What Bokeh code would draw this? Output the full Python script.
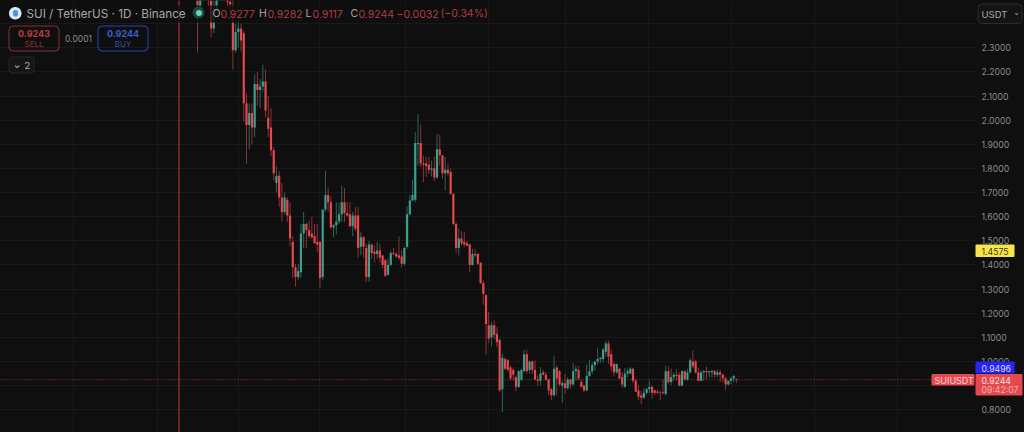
from bokeh.plotting import figure
from bokeh.models import (ColumnDataSource, BoxAnnotation, Label, Span, FixedTicker,
                          NumeralTickFormatter, Range1d, GlobalInlineStyleSheet)
from bokeh.embed import file_html
from bokeh.resources import INLINE

opens = [2.52,2.47,2.55,2.58,2.55,2.51,2.38,2.47,2.52,2.54,2.56,2.53,2.49,2.405,2.29,2.365,2.38,2.36,2.07,1.98,
 2.03,1.97,2.15,2.125,2.14,2.16,2.01,1.97,1.875,1.74,1.77,1.68,1.62,1.67,1.605,1.495,1.39,1.35,1.37,1.53,
 1.57,1.545,1.53,1.52,1.495,1.495,1.35,1.63,1.69,1.66,1.555,1.565,1.58,1.61,1.66,1.615,1.61,1.56,1.605,1.605,
 1.475,1.515,1.47,1.35,1.485,1.455,1.445,1.46,1.44,1.42,1.36,1.40,1.45,1.445,1.44,1.435,1.405,1.475,1.61,1.667,
 1.67,1.90,1.905,1.82,1.82,1.815,1.795,1.80,1.762,1.88,1.855,1.78,1.795,1.785,1.695,1.57,1.47,1.51,1.495,1.49,
 1.485,1.40,1.445,1.445,1.41,1.325,1.275,1.15,1.10,1.15,1.115,1.09,.885,1.01,1.005,.975,.965,.935,.895,.925,
 .96,1.03,.965,1.00,.965,.925,.92,.955,.945,.925,.885,.86,.975,.96,.90,.91,.89,.925,.905,.96,
 .965,.915,.90,.88,.94,.96,.985,1.0,1.01,1.01,1.04,1.075,1.03,.99,.955,.97,.935,.895,.95,.95,
 .97,.92,.88,.86,.85,.87,.885,.895,.88,.875,.872,.872,.865,.96,.915,.935,.945,.945,.90,.96,
 .925,.955,1.0,1.0,.955,.92,.955,.96,.955,.955,.96,.945,.955,.945,.93,.905,.92,.93,.9277]
highs = [2.56,2.56,2.6,2.62,2.6,2.55,2.52,2.55,2.56,2.58,2.6,2.56,2.52,2.52,2.40,2.405,2.40,2.37,2.11,2.07,
 2.07,2.19,2.20,2.17,2.23,2.21,2.10,2.05,1.89,1.81,1.79,1.74,1.70,1.68,1.66,1.52,1.405,1.405,1.57,1.62,
 1.575,1.585,1.60,1.57,1.57,1.50,1.63,1.79,1.72,1.684,1.57,1.66,1.66,1.73,1.72,1.66,1.66,1.62,1.64,1.64,
 1.536,1.52,1.488,1.50,1.488,1.48,1.495,1.488,1.44,1.426,1.426,1.46,1.47,1.454,1.518,1.46,1.477,1.643,1.691,1.753,
 1.95,2.026,1.982,1.854,1.85,1.847,1.833,1.85,1.943,1.94,1.855,1.847,1.82,1.80,1.695,1.578,1.55,1.54,1.536,1.50,
 1.488,1.467,1.465,1.45,1.41,1.336,1.28,1.204,1.163,1.17,1.142,1.094,1.032,1.018,1.011,.983,.975,.942,.963,.97,
 1.048,1.05,1.004,1.004,1.004,.942,.977,.966,.956,.928,.891,1.025,.984,.963,.919,.949,.935,.928,.993,.983,
 .98,.928,.905,.988,1.007,.997,.997,1.057,1.02,1.055,1.087,1.087,1.048,.997,.99,.974,.956,.974,.97,.977,
 .974,.928,.901,.88,.891,.89,.919,.90,.885,.883,.88,.925,.983,.979,.97,.956,.966,.956,.963,.963,
 .97,1.015,1.046,1.007,.974,.963,.966,.98,.96,.966,.966,.966,.966,.95,.938,.921,.935,.945,.9282]
lows = [2.28,2.46,2.53,2.53,2.47,2.343,2.36,2.46,2.50,2.50,2.50,2.46,2.42,2.21,2.28,2.30,2.285,1.995,1.82,1.88,
 1.90,1.93,2.06,2.05,2.12,2.01,1.93,1.85,1.75,1.70,1.64,1.58,1.61,1.578,1.48,1.345,1.31,1.336,1.347,1.47,
 1.47,1.51,1.51,1.488,1.453,1.305,1.336,1.62,1.62,1.55,1.515,1.527,1.57,1.578,1.578,1.60,1.555,1.52,1.54,1.43,
 1.44,1.43,1.33,1.33,1.425,1.41,1.425,1.41,1.385,1.35,1.355,1.396,1.44,1.43,1.42,1.39,1.398,1.467,1.605,1.665,
 1.66,1.812,1.806,1.743,1.764,1.778,1.767,1.748,1.757,1.812,1.757,1.709,1.77,1.69,1.565,1.45,1.44,1.48,1.474,1.478,
 1.37,1.398,1.432,1.40,1.32,1.235,1.03,1.076,1.062,1.094,1.06,.875,.79,.965,.956,.921,.921,.877,.89,.92,
 .956,.949,.949,.949,.924,.90,.90,.942,.921,.86,.841,.855,.86,.897,.828,.866,.883,.887,.90,.921,
 .924,.891,.873,.877,.935,.949,.963,.988,.993,.997,1.02,.99,.963,.938,.949,.926,.891,.891,.935,.946,
 .91,.873,.839,.822,.843,.863,.869,.846,.86,.866,.839,.865,.859,.907,.901,.921,.921,.897,.897,.924,
 .92,.95,.973,.949,.918,.918,.921,.928,.935,.932,.932,.935,.914,.914,.883,.90,.907,.914,.9117]
closes = [2.475,2.52,2.58,2.55,2.51,2.38,2.405,2.52,2.54,2.56,2.53,2.49,2.48,2.29,2.365,2.38,2.33,2.07,1.98,2.03,
 1.97,2.15,2.125,2.14,2.16,2.04,1.965,1.875,1.78,1.77,1.68,1.62,1.68,1.605,1.51,1.39,1.35,1.375,1.53,1.57,
 1.545,1.52,1.515,1.49,1.485,1.345,1.63,1.69,1.66,1.555,1.565,1.58,1.61,1.66,1.615,1.605,1.56,1.605,1.55,1.47,
 1.515,1.475,1.35,1.485,1.45,1.445,1.46,1.43,1.40,1.355,1.40,1.45,1.445,1.435,1.43,1.405,1.47,1.61,1.667,1.69,
 1.905,1.905,1.82,1.815,1.81,1.795,1.80,1.762,1.88,1.855,1.78,1.795,1.78,1.695,1.57,1.47,1.51,1.49,1.485,1.48,
 1.40,1.445,1.44,1.405,1.325,1.28,1.155,1.095,1.15,1.11,1.08,.88,1.015,.97,.965,.93,.945,.895,.96,.965,
 1.03,.96,1.00,.965,.925,.92,.95,.945,.925,.88,.86,.97,.93,.905,.91,.89,.925,.905,.96,.97,
 .93,.895,.88,.94,.96,.985,1.0,1.01,1.015,1.05,1.075,1.02,.98,.955,.99,.93,.905,.95,.96,.97,
 .92,.875,.855,.85,.87,.885,.895,.87,.87,.87,.87,.868,.96,.915,.935,.945,.94,.90,.96,.925,
 .955,1.005,.98,.955,.92,.955,.96,.955,.96,.96,.945,.955,.945,.93,.905,.92,.93,.94,.9244]

price_ticks = [0.7,0.8,0.9,1.0,1.1,1.2,1.3,1.4,1.5,1.6,1.7,1.8,1.9,2.0,2.1,2.2,2.3]
grid_prices = price_ticks + [2.4]
month_ticks = [-45.5,-14.7,15.0,44.8,76.4,106.9,135.2,165.7,196.2,226.7,257.1]
cursor_bar = -6.8
last_price = 0.9244

BG, RED, GREEN = "#0f0f0f", "#e5484f", "#3c9f8b"
W, H = 1024, 432
STEP = 2.722
FONT = "Inter"

colors = [RED if c < o else GREEN for o, c in zip(opens, closes)]
src = ColumnDataSource(dict(i=list(range(len(opens))), o=opens, h=highs, l=lows, c=closes, col=colors))

p = figure(width=W, height=H, output_backend="svg", toolbar_location=None,
           x_range=Range1d(-197/STEP, (W-197)/STEP),
           y_range=Range1d(2.3-(432-47.3)/241.3, 2.3+47.3/241.3),
           y_axis_location="right", min_border=0,
           background_fill_color=BG, border_fill_color=BG, outline_line_color=None)
p.stylesheets = [GlobalInlineStyleSheet(css="html,body{margin:0;background:#0f0f0f;overflow:hidden}")]
p.xaxis.visible = False
p.xgrid.ticker = FixedTicker(ticks=month_ticks)
p.ygrid.ticker = FixedTicker(ticks=grid_prices)
p.grid.grid_line_color = "#191919"
ax = p.yaxis[0]
ax.fixed_location = (975-197)/STEP
ax.ticker = FixedTicker(ticks=price_ticks)
ax.formatter = NumeralTickFormatter(format="0.0000")
ax.axis_line_color = None
ax.major_tick_line_color = None
ax.minor_tick_line_color = None
ax.major_tick_out = 0
ax.major_tick_in = 0
ax.major_label_text_color = "#8c8c8c"
ax.major_label_text_font = FONT
ax.major_label_text_font_size = "8.7px"
ax.major_label_standoff = 6

p.add_layout(Span(location=last_price, dimension="width", line_color="#a8383d", line_dash="1 2", line_width=1, level="underlay"))
p.add_layout(Span(location=cursor_bar, dimension="height", line_color="#c8383e", line_width=1, level="underlay"))
p.add_layout(BoxAnnotation(left=975, right=W, top=H, bottom=0, left_units="screen", right_units="screen",
                           top_units="screen", bottom_units="screen", fill_color=BG, fill_alpha=1,
                           line_alpha=0, level="underlay"))
p.segment("i", "h", "i", "l", source=src, line_color="col", line_alpha=0.6, line_width=1)
p.vbar(x="i", top="o", bottom="c", width=0.8, source=src, fill_color="col", line_color=None)

def box(l, t, r, b, fill=None, alpha=1.0, line=None, radius=0):
    p.add_layout(BoxAnnotation(left=l, right=r, top=H-t, bottom=H-b, level="overlay",
        left_units="screen", right_units="screen", top_units="screen", bottom_units="screen",
        fill_color=fill, fill_alpha=alpha if fill else 0, line_color=line, line_alpha=1 if line else 0,
        line_width=1, border_radius=radius))

def txt(x, y, s, color, size=10, weight="normal", align="left", font=FONT):
    p.add_layout(Label(x=x, y=H-y, x_units="screen", y_units="screen", text=s, text_color=color,
        level="overlay", text_font=font, text_font_size=f"{size}px", text_font_style=weight,
        text_align=align, text_baseline="middle"))

# header
box(0, 5, 486, 22, fill=BG, alpha=0.75)
box(8.5, 6.5, 21, 19, fill="#dbe9f7", radius=6)
box(12.5, 9.5, 17.5, 16, fill="#4a93e6", radius=2)
txt(26, 13, "SUI / TetherUS · 1D · Binance", "#a8a8a8", 11.7)
box(192, 6, 204, 18, fill="#1f4f46", alpha=0.9, radius=6)
box(195.5, 9.5, 201.5, 15.5, fill="#6fd0b5", radius=3)
HDR = "#b23c42"
for x, s, c in [(212,"O","#a8a8a8"),(220,"0.9277",HDR),(258.5,"H","#a8a8a8"),(267,"0.9282",HDR),
                (305,"L","#a8a8a8"),(312,"0.9117",HDR),(350,"C","#a8a8a8"),(358,"0.9244",HDR),
                (396,"−0.0032",HDR),(440,"(−0.34%)",HDR)]:
    txt(x, 13, s, c, 10.5)

# order buttons
box(8.5, 25.5, 58.5, 50.5, line="#8a2f34", radius=4)
txt(33.5, 32.5, "0.9243", "#c23b41", 9, "bold", "center")
txt(33.5, 43.5, "SELL", "#8a2f34", 8, "normal", "center")
txt(78, 38, "0.0001", "#8c8c8c", 8.5, "normal", "center")
box(97.5, 25.5, 147.5, 50.5, line="#2a46a8", radius=4)
txt(122.5, 32.5, "0.9244", "#3b5fd0", 9, "bold", "center")
txt(122.5, 43.5, "BUY", "#2f4db4", 8, "normal", "center")
box(8.5, 56.5, 33.5, 72.5, fill="#161616", line="#262626", radius=3)
txt(16.5, 64, "⌄", "#b0b0b0", 11, "normal", "center", "DejaVu Sans")
txt(24, 64.5, "2", "#b0b0b0", 9.5)

# currency selector
box(977.5, 3.5, 1021.5, 23, fill="#141414", line="#2c2c2c", radius=4)
txt(981, 13.5, "USDT", "#a8a8a8", 9.5)
txt(1016, 12, "⌄", "#a8a8a8", 8, "normal", "center", "DejaVu Sans")

# price tags
box(975, 244, 1014, 256.5, fill="#f7e64a", radius=1)
txt(981, 250.5, "1.4575", "#3a3a1a", 8.7)
box(975, 361, 1014, 373, fill="#2626f0", radius=1)
txt(981, 367.5, "0.9496", "#d8d8ff", 8.7)
box(931, 373.5, 974, 385, fill=RED, radius=1)
txt(934, 379.5, "SUIUSDT", "#f6d6d8", 9)
box(975, 373.5, 1022, 395, fill=RED, radius=1)
txt(981, 379.5, "0.9244", "#f8e0e0", 8.7)
txt(981, 389.5, "09:42:07", "#f2b0b3", 8.7)

open("out.html", "w").write(file_html(p, INLINE))
